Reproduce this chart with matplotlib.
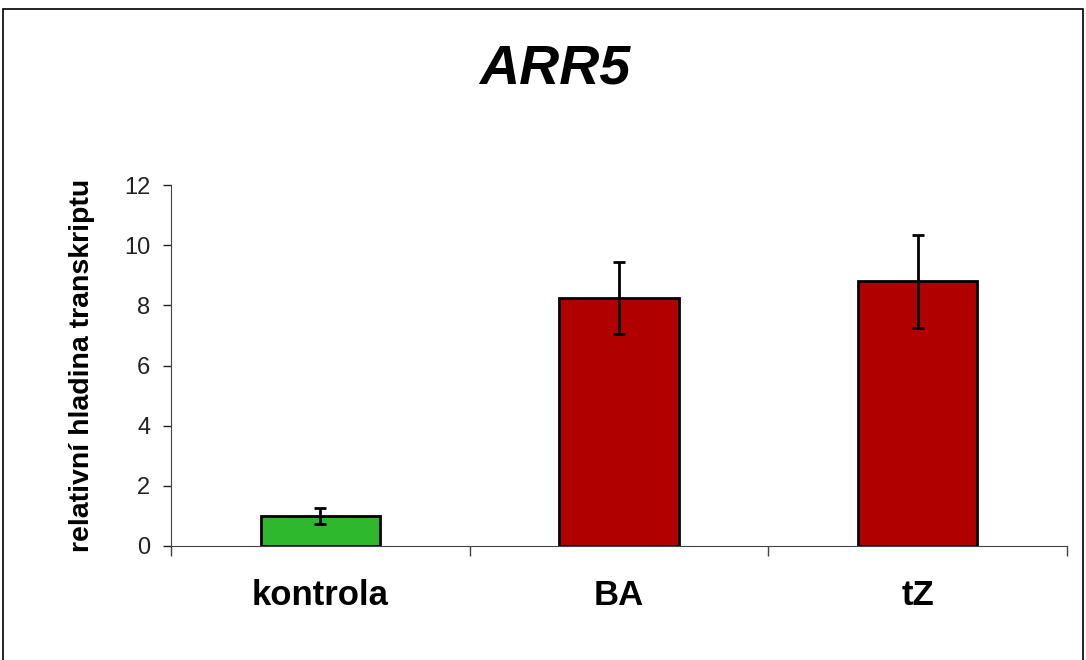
import matplotlib.pyplot as plt
from matplotlib.patches import Rectangle

categories = ['kontrola', 'BA', 'tZ']
values = [1.0, 8.25, 8.8]
errors = [0.27, 1.2, 1.55]
colors = ['#2db82d', '#b00000', '#b00000']

plt.rcParams['font.family'] = ['Liberation Sans', 'DejaVu Sans']

fig = plt.figure(figsize=(10.86, 6.6), dpi=100)
W, H = 1086, 660
ax = fig.add_axes([171 / W, 1 - 546 / H, (1067 - 171) / W, (546 - 185) / H])

# Outer frame around the chart area
fig.patches.append(Rectangle((3 / W, -0.05), (1083 - 3) / W, 1.05 - 9 / H,
                             transform=fig.transFigure, fill=False,
                             edgecolor='black', linewidth=1.2))

x = range(len(categories))
ax.bar(x, values, width=0.4, color=colors, edgecolor='black', linewidth=2,
       yerr=errors, error_kw=dict(ecolor='black', elinewidth=2, capsize=4.5, capthick=2),
       zorder=2)

ax.set_xlim(-0.5, 2.5)
ax.set_ylim(0, 12)
ax.set_yticks(range(0, 13, 2))
ax.tick_params(axis='y', direction='out', length=6, width=1, labelsize=17,
               colors='#222222', pad=9)
ax.set_xticks(list(x))
ax.set_xticklabels(categories, fontsize=25, fontweight='bold')
ax.tick_params(axis='x', which='major', length=0, pad=24)
ax.set_xticks([-0.5, 0.5, 1.5, 2.5], minor=True)
ax.tick_params(axis='x', which='minor', direction='out', length=7, width=1, color='#444444')

for side in ['top', 'right']:
    ax.spines[side].set_visible(False)
ax.spines['left'].set_color('#444444')
ax.spines['bottom'].set_color('#444444')

ax.set_ylabel('relativní hladina transkriptu', fontsize=20.5, fontweight='bold', labelpad=21)
fig.text(555 / W, 1 - 70 / H, 'ARR5', fontsize=40, fontweight='bold', fontstyle='italic',
         ha='center', va='center')

plt.savefig('out.png', dpi=100)
